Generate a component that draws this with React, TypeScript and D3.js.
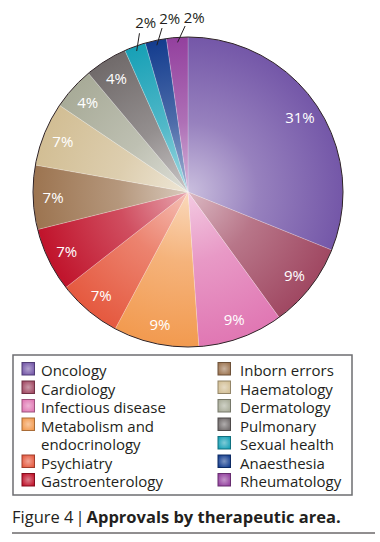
import React from "react";
import * as d3 from "d3";

const categories = [
  "Oncology",
  "Cardiology",
  "Infectious disease",
  "Metabolism and endocrinology",
  "Psychiatry",
  "Gastroenterology",
  "Inborn errors",
  "Haematology",
  "Dermatology",
  "Pulmonary",
  "Sexual health",
  "Anaesthesia",
  "Rheumatology",
];
const approvals = [14, 4, 4, 4, 3, 3, 3, 3, 2, 2, 1, 1, 1];
const pctLabels = ["31%", "9%", "9%", "9%", "7%", "7%", "7%", "7%", "4%", "4%", "2%", "2%", "2%"];
const outsideLabel = [false, false, false, false, false, false, false, false, false, false, true, true, true];
const colors = [
  "#7457a8", "#a04862", "#e077b3", "#f29a4f", "#e5593f", "#c0132b",
  "#9c7450", "#d2be94", "#a8ab98", "#706a6a", "#17a0b6", "#133c8e", "#93409e",
];
const legendLeft = [
  ["Oncology"], ["Cardiology"], ["Infectious disease"], ["Metabolism and", "endocrinology"], ["Psychiatry"], ["Gastroenterology"],
];
const legendRight = ["Inborn errors", "Haematology", "Dermatology", "Pulmonary", "Sexual health", "Anaesthesia", "Rheumatology"];

const FONT = "'Open Sans', sans-serif";

export default function App() {
  const cx = 188, cy = 192, R = 155;
  const pie = d3.pie<number>().sort(null).value((d) => d)(approvals);
  const arc = d3.arc<d3.PieArcDatum<number>>().innerRadius(0).outerRadius(R);
  const pt = (a: number, r: number) => [Math.sin(a) * r, -Math.cos(a) * r];
  const deg = Math.PI / 180;

  const rowStep = 18.5;
  const base0 = 376;
  const leftRows: { cat: number; lines: string[]; row: number }[] = [];
  let row = 0;
  legendLeft.forEach((lines, i) => {
    leftRows.push({ cat: i, lines, row });
    row += lines.length;
  });

  const swatch = (ci: number, x: number, baseline: number) => (
    <rect
      key={"sw" + ci}
      x={x}
      y={baseline - 13.5}
      width={12.5}
      height={12.5}
      fill={`url(#lg${ci})`}
      stroke={d3.color(colors[ci])!.darker(1).formatHex()}
      strokeWidth={1}
    />
  );

  return (
    <svg
      width={380}
      height={542}
      style={{ position: "absolute", left: 0, top: 0, background: "#fff", display: "block" }}
      fontFamily={FONT}
    >
      <defs>
        {colors.map((c, i) => (
          <radialGradient key={"g" + i} id={"g" + i} gradientUnits="userSpaceOnUse" cx={0} cy={0} r={R}>
            <stop offset="0" stopColor={d3.interpolateRgb(c, "#fff")(0.62)} />
            <stop offset="0.45" stopColor={d3.interpolateRgb(c, "#fff")(0.25)} />
            <stop offset="1" stopColor={c} />
          </radialGradient>
        ))}
        {colors.map((c, i) => (
          <radialGradient key={"lg" + i} id={"lg" + i} cx="0.5" cy="0.5" r="0.6">
            <stop offset="0" stopColor={d3.interpolateRgb(c, "#fff")(0.45)} />
            <stop offset="1" stopColor={c} />
          </radialGradient>
        ))}
      </defs>

      <g transform={`translate(${cx},${cy})`}>
        {pie.map((d, i) => (
          <path key={"s" + i} d={arc(d) || ""} fill={`url(#g${i})`} stroke="#fff" strokeOpacity={0.35} strokeWidth={0.6} />
        ))}
        <circle r={R} fill="none" stroke="#2e2226" strokeWidth={1} />
        {pie.map((d, i) => {
          const mid = (d.startAngle + d.endAngle) / 2;
          if (!outsideLabel[i]) {
            const [x, y] = pt(mid, 135);
            return (
              <text key={"l" + i} x={x} y={y} fill="#fff" fontSize={15} textAnchor="middle" dominantBaseline="central">
                {pctLabels[i]}
              </text>
            );
          }
          const [x1, y1] = pt(mid, 150);
          const [x2, y2] = pt(mid + 3 * deg, 166);
          const [tx, ty] = pt(mid + 6 * deg, 175);
          return (
            <g key={"l" + i}>
              <line x1={x1} y1={y1} x2={x2} y2={y2} stroke="#231f20" strokeWidth={1} />
              <text x={tx} y={ty} fill="#231f20" fontSize={15} textAnchor="middle" dominantBaseline="central">
                {pctLabels[i]}
              </text>
            </g>
          );
        })}
      </g>

      <rect x={13} y={355} width={339} height={140} fill="#fff" stroke="#6d6e71" strokeWidth={1.5} />
      {leftRows.map((r) => (
        <g key={"ll" + r.cat}>
          {swatch(r.cat, 22, base0 + r.row * rowStep)}
          {r.lines.map((ln, k) => (
            <text key={k} x={41} y={base0 + (r.row + k) * rowStep} fontSize={15} fill="#231f20">
              {ln}
            </text>
          ))}
        </g>
      ))}
      {legendRight.map((name, k) => {
        const ci = categories.indexOf(name);
        const b = base0 + k * rowStep;
        return (
          <g key={"lr" + k}>
            {swatch(ci, 218, b)}
            <text x={240} y={b} fontSize={15} fill="#231f20">
              {name}
            </text>
          </g>
        );
      })}

      <text x={12} y={523} fontSize={16.5} fill="#231f20">
        <tspan>Figure 4</tspan>
        <tspan dx={2}>|</tspan>
        <tspan dx={2} fontWeight={700}>Approvals by therapeutic area.</tspan>
      </text>
      <line x1={12} x2={375} y1={533} y2={533} stroke="#231f20" strokeWidth={1} />
    </svg>
  );
}
